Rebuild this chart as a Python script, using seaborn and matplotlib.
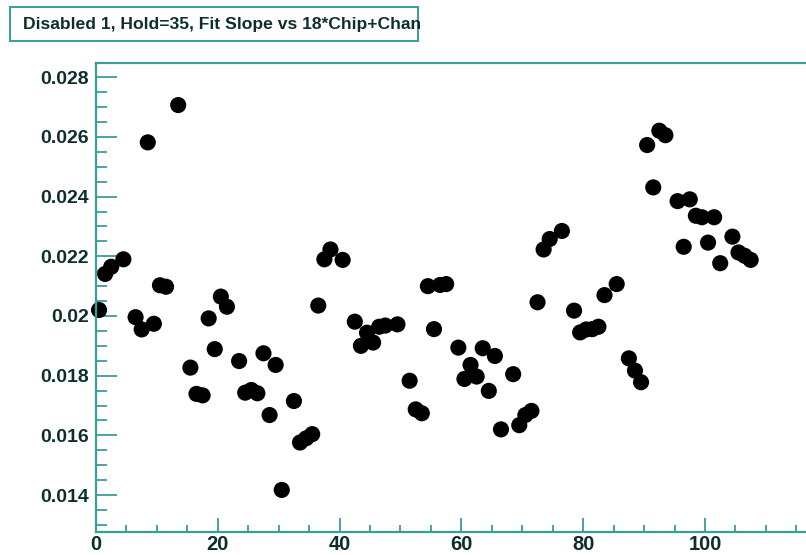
import matplotlib
matplotlib.use("Agg")
import matplotlib.pyplot as plt
import seaborn as sns
import pandas as pd
from matplotlib.ticker import MultipleLocator, FixedLocator
from matplotlib.patches import Rectangle

channel = [0.5, 1.5, 2.5, 4.5, 6.5, 7.5, 8.5, 9.5, 10.5, 11.5, 13.5, 15.5, 16.5, 17.5,
           18.5, 19.5, 20.5, 21.5, 23.5, 24.5, 25.5, 26.5, 27.5, 28.5, 29.5, 30.5, 32.5,
           33.5, 34.5, 35.5, 36.5, 37.5, 38.5, 40.5, 42.5, 43.5, 44.5, 45.5, 46.5, 47.5,
           49.5, 51.5, 52.5, 53.5, 54.5, 55.5, 56.5, 57.5, 59.5, 60.5, 61.5, 62.5, 63.5,
           64.5, 65.5, 66.5, 68.5, 69.5, 70.5, 71.5, 72.5, 73.5, 74.5, 76.5, 78.5, 79.5,
           80.5, 81.5, 82.5, 83.5, 85.5, 87.5, 88.5, 89.5, 90.5, 91.5, 92.5, 93.5, 95.5,
           96.5, 97.5, 98.5, 99.5, 100.5, 101.5, 102.5, 104.5, 105.5, 106.5, 107.5]
slope = [0.0202, 0.02141, 0.02165, 0.0219, 0.01996, 0.01955, 0.02582, 0.01974, 0.02103,
         0.02098, 0.02707, 0.01827, 0.01739, 0.01734, 0.01992, 0.01889, 0.02065, 0.02031,
         0.01849, 0.01743, 0.01752, 0.01741, 0.01875, 0.01668, 0.01836, 0.01417, 0.01715,
         0.01576, 0.0159, 0.01604, 0.02035, 0.0219, 0.02223, 0.02188, 0.01981, 0.019,
         0.01944, 0.01911, 0.01964, 0.01968, 0.01972, 0.01783, 0.01687, 0.01674, 0.021,
         0.01956, 0.02104, 0.02107, 0.01894, 0.01789, 0.01836, 0.01797, 0.01892, 0.01749,
         0.01866, 0.0162, 0.01805, 0.01634, 0.01668, 0.01682, 0.02046, 0.02223, 0.02258,
         0.02285, 0.02018, 0.01945, 0.01955, 0.01956, 0.01964, 0.0207, 0.02107, 0.01858,
         0.01817, 0.01778, 0.02573, 0.02431, 0.02621, 0.02606, 0.02385, 0.02232, 0.02391,
         0.02336, 0.02331, 0.02246, 0.02331, 0.02177, 0.02266, 0.02213, 0.02202, 0.02188]
ytick_vals = [0.014, 0.016, 0.018, 0.02, 0.022, 0.024, 0.026, 0.028]
ytick_labels = ["0.014", "0.016", "0.018", "0.02", "0.022", "0.024", "0.026", "0.028"]
xtick_vals = [0, 20, 40, 60, 80, 100]
xtick_labels = ["0", "20", "40", "60", "80", "100"]
title = "Disabled 1, Hold=35, Fit Slope vs 18*Chip+Chan"

sns.set_style("white")
plt.rcParams["font.family"] = ["Liberation Sans", "DejaVu Sans"]

AX = "#3a9c9c"
TXT = "#0e2e2e"

W, H = 806, 555
fig = plt.figure(figsize=(W / 100, H / 100), dpi=100)
left, right_px, top_px, bot_px = 96, 826.8, 62.7, 532.3
ax = fig.add_axes([left / W, (H - bot_px) / H, (right_px - left) / W, (bot_px - top_px) / H])

df = pd.DataFrame({"chan": channel, "slope": slope})
sns.scatterplot(data=df, x="chan", y="slope", ax=ax, color="black", s=135,
                edgecolor="none", linewidth=0, legend=False, clip_on=False)

ax.set_xlim(0, 120)
ax.set_ylim(0.01275, 0.02849)
ax.set_xlabel("")
ax.set_ylabel("")
ax.xaxis.set_major_locator(FixedLocator(xtick_vals + [120]))
ax.set_xticklabels(xtick_labels + [""])
ax.xaxis.set_minor_locator(MultipleLocator(5))
ax.yaxis.set_major_locator(FixedLocator(ytick_vals))
ax.set_yticklabels(ytick_labels)
ax.yaxis.set_minor_locator(MultipleLocator(0.0005))

for s in ["left", "bottom", "top"]:
    ax.spines[s].set_visible(True)
    ax.spines[s].set_color(AX)
    ax.spines[s].set_linewidth(1.6)
ax.spines["right"].set_visible(False)

ax.tick_params(axis="y", which="major", direction="in", length=15, width=1.3, color=AX,
               labelsize=14, labelcolor=TXT, pad=5, left=True)
ax.tick_params(axis="y", which="minor", direction="in", length=8, width=1.3, color=AX, left=True)
ax.tick_params(axis="x", which="major", direction="in", length=10, width=1.3, color=AX,
               labelsize=14.5, labelcolor=TXT, pad=2, bottom=True)
ax.tick_params(axis="x", which="minor", direction="in", length=5, width=1.3, color=AX, bottom=True)
for lab in ax.get_xticklabels() + ax.get_yticklabels():
    lab.set_fontweight("bold")

# title box
fig.patches.append(Rectangle((10 / W, (H - 41) / H), 408 / W, 34 / H, transform=fig.transFigure,
                             facecolor="white", edgecolor=AX, linewidth=1.4))
fig.text(23 / W, (H - 24.5) / H, title, ha="left", va="center", fontsize=12.6,
         fontweight="bold", color=TXT)

fig.savefig("out.png", dpi=100)
